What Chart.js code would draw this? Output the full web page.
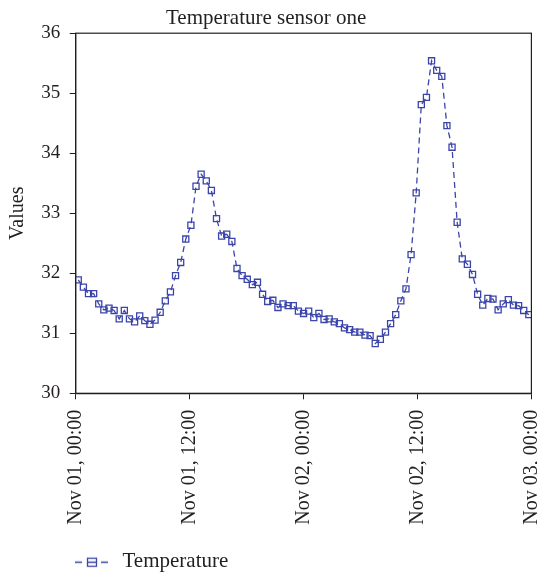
<!DOCTYPE html>
<html>
<head>
<meta charset="utf-8">
<script src="https://cdn.jsdelivr.net/npm/chart.js@4/dist/chart.umd.min.js"></script>
<style>
  body { margin: 0; background: #fff; }
  canvas { display: block; }
</style>
</head>
<body>
<canvas id="chart" width="537" height="575"></canvas>
<script>
// readings, one every ~32 min over two days
const temps = [
  31.89, 31.77, 31.66, 31.66, 31.49, 31.39, 31.42, 31.38, 31.24, 31.38,
  31.24, 31.19, 31.29, 31.21, 31.15, 31.22, 31.35, 31.54, 31.69, 31.96,
  32.18, 32.57, 32.80, 33.45, 33.65, 33.54, 33.38, 32.91, 32.62, 32.65,
  32.53, 32.08, 31.96, 31.90, 31.81, 31.85, 31.65, 31.53, 31.55, 31.43,
  31.49, 31.46, 31.46, 31.37, 31.33, 31.37, 31.26, 31.33, 31.23, 31.24,
  31.19, 31.16, 31.09, 31.06, 31.02, 31.02, 30.97, 30.96, 30.83, 30.90,
  31.02, 31.16, 31.31, 31.54, 31.74, 32.31, 33.34, 34.81, 34.93, 35.54,
  35.38, 35.28, 34.46, 34.10, 32.85, 32.24, 32.15, 31.98, 31.65, 31.47,
  31.58, 31.57, 31.39, 31.49, 31.56, 31.47, 31.46, 31.38, 31.31
];
const tickLabels = ["Nov 01, 00:00", "Nov 01, 12:00", "Nov 02, 00:00", "Nov 02, 12:00", "Nov 03, 00:00"];
const spanHours = 48;

const blue = "#3b44aa";
const ink = "#231f20";
Chart.defaults.font.family = "'Liberation Serif', 'DejaVu Serif', serif";
Chart.defaults.color = ink;

// samples sit in the middle of equal slots across the two days
const points = temps.map((v, i) => ({ x: (i + 0.5) * spanHours / temps.length, y: v }));

// legend symbol: dash - square - dash, drawn at the right of a wide box
// so that it lines up under the y axis
const sym = document.createElement("canvas");
sym.width = 102;
sym.height = 14;
const sc = sym.getContext("2d");
sc.strokeStyle = blue;
sc.lineWidth = 1.3;
sc.beginPath();
sc.moveTo(65, 7.5); sc.lineTo(72, 7.5);
sc.moveTo(91, 7.5); sc.lineTo(98, 7.5);
sc.moveTo(78, 7.5); sc.lineTo(86, 7.5);
sc.stroke();
sc.strokeRect(77.5, 3.5, 9, 8);

const frame = {
  id: "frame",
  afterDraw(chart) {
    const { ctx, chartArea: a } = chart;
    ctx.save();
    ctx.strokeStyle = ink;
    ctx.lineWidth = 1.2;
    ctx.strokeRect(a.left, a.top, a.right - a.left, a.bottom - a.top);
    ctx.restore();
  }
};

new Chart(document.getElementById("chart"), {
  type: "line",
  data: {
    datasets: [{
      label: "Temperature",
      data: points,
      borderColor: blue,
      borderWidth: 1.3,
      borderDash: [6, 4],
      tension: 0,
      pointStyle: "rect",
      pointRadius: 4.3,
      pointBorderWidth: 1.3,
      pointBorderColor: blue,
      pointBackgroundColor: "rgba(0,0,0,0)"
    }]
  },
  options: {
    responsive: false,
    animation: false,
    layout: { padding: { left: 0, right: 4.7, top: 0, bottom: -7.2 } },
    plugins: {
      tooltip: { enabled: false },
      title: {
        display: true,
        text: "Temperature sensor one",
        color: ink,
        font: { size: 21, weight: "normal" },
        padding: { top: 5.5, bottom: 2.5 }
      },
      legend: {
        position: "bottom",
        align: "start",
        labels: {
          usePointStyle: true,
          pointStyle: sym,
          pointStyleWidth: 102,
          padding: 10,
          color: ink,
          font: { size: 21 }
        }
      }
    },
    scales: {
      x: {
        type: "linear",
        min: 0,
        max: spanHours,
        grid: { drawOnChartArea: false, tickLength: 6, tickColor: ink },
        border: { color: ink, width: 1.2 },
        ticks: {
          stepSize: 12,
          autoSkip: false,
          maxRotation: 90,
          minRotation: 90,
          padding: 10.5,
          color: ink,
          font: { size: 20 },
          callback: (v) => tickLabels[Math.round(v / 12)]
        },
        afterFit(scale) {
          scale.height = 147.9;
          scale.paddingLeft = 0;
          scale.paddingRight = 0;
        }
      },
      y: {
        min: 30,
        max: 36,
        grid: { drawOnChartArea: false, tickLength: 6, tickColor: ink },
        border: { color: ink, width: 1.2 },
        ticks: { stepSize: 1, padding: 9.5, color: ink, font: { size: 19 } },
        title: {
          display: true,
          text: "Values",
          color: ink,
          font: { size: 20 },
          padding: { top: 5.5, bottom: 0 }
        },
        afterFit(scale) {
          scale.width = 75.7;
        }
      }
    }
  },
  plugins: [frame]
});
</script>
</body>
</html>
